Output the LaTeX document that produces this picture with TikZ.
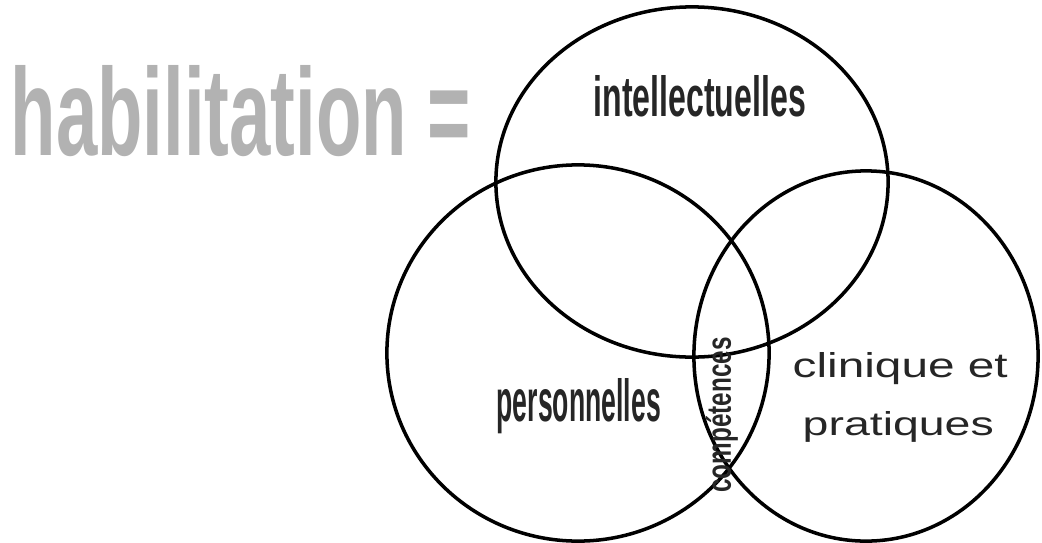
\documentclass[tikz,border=0pt]{standalone}
\usepackage{fontspec}
\setmainfont{Liberation Sans}
\usepackage{graphicx}
\usetikzlibrary{positioning}

\begin{document}
\begin{tikzpicture}[
        x=0.01cm, y=-0.01cm,
        zone/.style={draw, line width=1pt},
        zonetext/.style={inner sep=0pt, text=black!85},
        titletext/.style={inner sep=0pt, text=black!30, font=\bfseries},
    ]
        \useasboundingbox (0,0) rectangle (1042,542);

        % Title
        \node[titletext, anchor=base west] (title) at (10,155) {\resizebox{4.6cm}{0.9cm}{habilitation =}};

        % The three zones
        \draw[zone] (692,182) ellipse [x radius=1.96cm, y radius=1.75cm];
        \draw[zone] (578,353) ellipse [x radius=1.91cm, y radius=1.88cm];
        \draw[zone] (866,356) ellipse [x radius=1.72cm, y radius=1.85cm];

        % Zone labels
        \node[zonetext, anchor=base west] (intel) at (593,116) {\resizebox{2.12cm}{0.41cm}{\bfseries intellectuelles}};
        \node[zonetext, anchor=base west] (perso) at (496,421) {\resizebox{1.64cm}{0.43cm}{\bfseries personnelles}};
        \node[zonetext, anchor=base west] (clinique) at (792,377) {\resizebox{2.15cm}{0.25cm}{clinique et}};
        \node[zonetext, anchor=base west] (pratiques) at (802,435) {\resizebox{1.91cm}{0.24cm}{pratiques}};

        % Centre of the three zones
        \node[zonetext, rotate=90] (competences) at (722,415) {\resizebox{1.55cm}{0.25cm}{\bfseries compétences}};
    \end{tikzpicture}
\end{document}
